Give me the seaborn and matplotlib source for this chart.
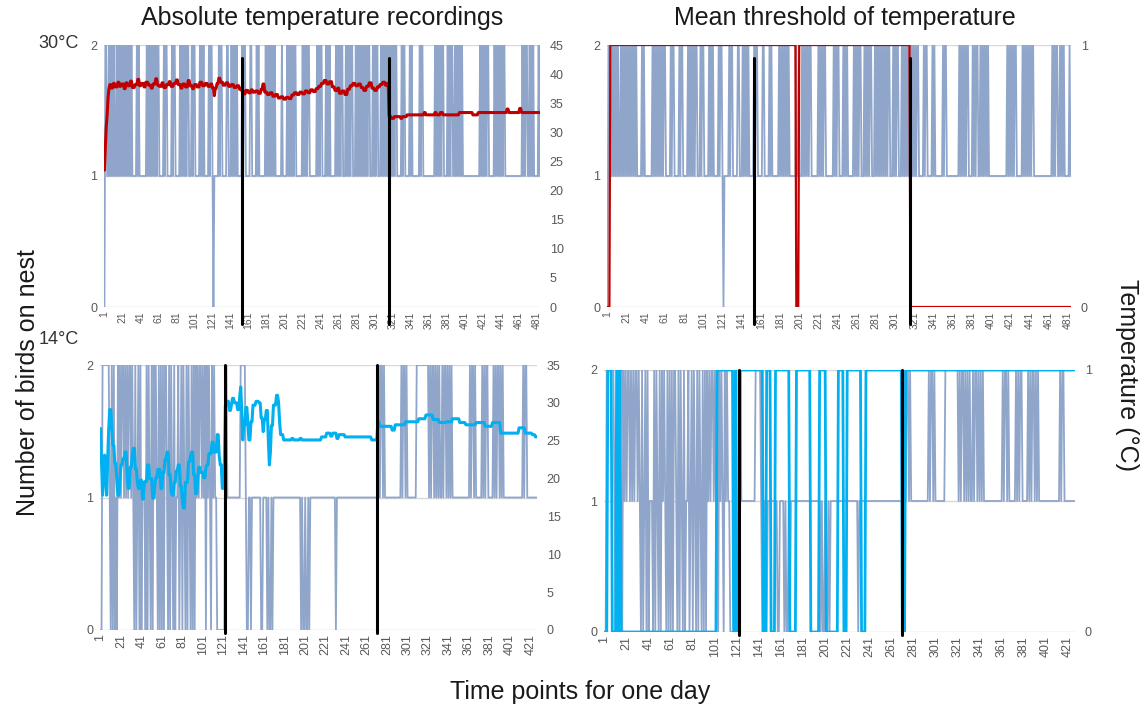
import numpy as np
import pandas as pd
import matplotlib
matplotlib.use("Agg")
import matplotlib.pyplot as plt
import seaborn as sns

# ---------------------------------------------------------------------------
# Data
# ---------------------------------------------------------------------------
# Number of birds on the nest at each time point (one digit per point,
# 20 points per string, matching the 1, 21, 41 ... tick spacing).
birds_30c = [
    "02211212121211212121", "21212121212111112121", "11111112121212121212",
    "21111121221111121221", "11112121212122111212", "21111121212111112122",
    "10111112122111112211", "12121212111112122111", "11221111121211111112",
    "12121212121111111211", "11121212121221111111", "21212122111111112121",
    "22111121212111111212", "12122111212121221112", "12121212121212211121",
    "21221112121212121212", "12122111112122111112", "12111111112122111111",
    "11111112121212122111", "12121221121212121211", "11111111111111111212",
    "12121221111112121212", "12122111111111111111", "11112121221121212111",
    "1121",
]
birds_14c = [
    "00222222210202010212", "12212121221210201202", "01110202102021210202",
    "02022102021020112012", "02102021020202121221", "21202121021211000000",
    "00221111111111111222", "22100110111111111001", "11101001011111111111",
    "11111111111111110100", "10010111111111111111", "11111111110111111111",
    "11111111111111111111", "11111111111121221211", "11111111111111212212",
    "11111111122222222222", "21212212121211212212", "12121111111111111111",
    "12122121111112121221", "11112121221212111111", "11111111111112122111",
    "1111111",
]

# Absolute temperature (deg C): value holds from the given time point onward
temp_30c_start = [
    1, 2, 3, 4, 5, 6, 7, 9, 11, 13, 16, 18, 20, 23, 25, 27, 30, 32, 35, 38,
    40, 42, 45, 47, 50, 53, 55, 58, 60, 62, 65, 67, 70, 73, 75, 78, 81, 83,
    86, 88, 91, 94, 96, 99, 101, 104, 107, 110, 113, 116, 119, 121, 123, 124,
    126, 128, 130, 133, 136, 139, 142, 145, 148, 151,
    154, 156, 158, 161, 164, 166, 169, 172, 175, 177, 179, 182, 185, 188, 191,
    194, 197, 200, 203, 206, 209, 212, 215, 218, 221, 224, 227, 230, 233, 236,
    239, 242, 245, 248, 251, 254, 257, 260, 262, 265, 268, 271, 274, 277, 280,
    283, 286, 289, 292, 295, 298, 301, 304, 307, 310, 313, 315,
    317, 320, 323, 330, 332, 337, 356, 358, 368, 370, 374, 377, 395, 410, 416,
    448, 450, 462, 464,
]
temp_30c_value = [
    23.5, 27.5, 31.0, 33.0, 36.0, 37.5, 38.2, 37.6, 38.4, 37.8, 38.6, 37.9,
    38.3, 37.5, 38.5, 38.0, 38.8, 37.7, 38.2, 39.1, 38.0, 38.4, 37.8, 38.6,
    38.1, 37.6, 38.3, 39.2, 38.1, 37.9, 38.5, 37.7, 38.2, 38.7, 37.9, 38.4,
    39.0, 38.2, 37.6, 38.3, 37.8, 38.9, 38.0, 37.5, 38.2, 37.8, 38.6, 38.0,
    38.4, 37.9, 38.3, 37.6, 36.3, 37.6, 38.4, 39.3, 38.6, 38.1, 38.5, 37.9,
    38.2, 37.7, 38.0, 37.4,
    37.0, 36.6, 37.2, 36.8, 37.3, 36.9, 37.1, 36.7, 37.4, 38.3, 36.9, 36.5,
    36.8, 36.2, 36.5, 35.9, 36.1, 35.7, 36.0, 35.8, 36.4, 36.8, 36.5, 36.9,
    36.6, 37.1, 36.8, 37.3, 37.0, 37.5, 37.9, 38.4, 38.9, 38.3, 38.7, 37.8,
    37.2, 37.6, 36.7, 37.1, 36.5, 37.4, 38.0, 38.4, 38.0, 38.3, 37.7, 37.2,
    37.9, 38.5, 37.6, 37.2, 37.8, 38.2, 38.6, 38.1, 38.4,
    32.7, 32.4, 32.7, 32.4, 32.7, 33.0, 33.4, 33.0, 33.4, 33.0, 33.4, 33.0,
    33.4, 33.0, 33.4, 34.0, 33.4, 34.1, 33.4,
]

temp_14c_start = [
    1, 2, 3, 4, 5, 6, 7, 8, 9, 10, 12, 13, 15, 17, 18, 20, 21, 23, 25, 27,
    28, 30, 32, 33, 35, 37, 38, 40, 42, 44, 47, 49, 52, 54, 55, 57, 60, 62,
    64, 66, 68, 70, 71, 73, 75, 77, 79, 81, 82, 84, 87, 89, 90, 92, 94, 96,
    97, 99, 102, 104, 105, 107, 110, 112, 115, 117, 118, 120, 122,
    123, 125, 127, 129, 130, 132, 135, 137, 138, 139, 140, 141, 143, 145, 146,
    148, 150, 153, 156, 158, 160, 161, 163, 165, 166, 167, 168, 170, 173, 175,
    176, 177,
    180, 188, 190, 196, 198, 217, 222, 226, 228, 232, 234, 240, 266,
    272, 274, 286, 289, 299, 312, 319, 326, 332, 339, 345, 352, 358, 368, 377,
    384, 392, 410, 416, 423, 426,
]
temp_14c_value = [
    26.6, 22.0, 17.8, 20.5, 23.1, 20.0, 17.8, 22.5, 26.5, 29.1, 26.8, 24.4,
    22.0, 19.5, 17.8, 20.0, 21.8, 22.6, 23.5, 20.5, 18.7, 21.5, 23.0, 24.0,
    21.3, 19.5, 18.7, 19.8, 17.3, 19.6, 21.8, 20.0, 17.4, 19.0, 20.1, 21.2,
    18.7, 20.8, 22.5, 23.5, 20.5, 18.3, 17.8, 19.5, 21.0, 21.8, 19.0, 17.0,
    16.1, 19.5, 22.2, 23.0, 23.5, 20.5, 18.0, 20.0, 21.5, 20.8, 20.1, 21.5,
    21.8, 23.3, 24.8, 23.5, 25.8, 23.0, 21.8, 18.7, 22.0,
    29.7, 30.2, 29.0, 29.8, 30.6, 30.0, 29.1, 30.8, 32.1, 29.0, 25.1, 27.0,
    29.4, 27.2, 25.1, 27.5, 29.7, 30.2, 30.0, 28.0, 26.2, 27.8, 29.0, 25.0,
    21.8, 23.5, 27.0, 29.7, 31.0, 30.0, 27.5, 25.8,
    25.1, 25.3, 25.1, 25.3, 25.1, 25.5, 26.0, 25.6, 26.0, 25.3, 25.8, 25.5,
    25.1,
    27.5, 26.9, 26.4, 27.1, 27.5, 27.9, 28.4, 27.8, 27.4, 27.5, 27.9, 27.4,
    27.1, 27.4, 26.9, 27.4, 26.0, 26.7, 26.0, 25.8, 25.5,
]

# Above/below mean threshold (1 = above), holding from the given point onward
thr_30c_start = [1, 4, 198, 201, 317]
thr_30c_value = [0, 1, 0, 1, 0]
thr_14c_start = [
    1, 4, 8, 12, 14, 15, 16, 103, 118, 120, 121, 124, 145, 148, 152, 156, 169,
    175, 188, 196, 202, 213, 218, 221, 234, 238, 271, 274,
]
thr_14c_value = [
    0, 1, 0, 1, 0, 1, 0, 1, 0, 1, 0, 1, 0, 1, 0, 1, 0,
    1, 0, 1, 0, 1, 0, 1, 0, 1, 0, 1,
]

# Time points where the experimental phase changes
events_30c = [154, 317]
events_14c = [123, 271]

ticks_30c = list(range(1, 482, 20))
ticks_14c = list(range(1, 422, 20))

# ---------------------------------------------------------------------------
def digits(chunks):
    return np.array([int(c) for c in "".join(chunks)], dtype=float)


def hold(starts, values, n):
    out = np.empty(n)
    for i, (s, v) in enumerate(zip(starts, values)):
        e = starts[i + 1] if i + 1 < len(starts) else n + 1
        out[s - 1:e - 1] = v
    return out


b30 = digits(birds_30c)
b14 = digits(birds_14c)
n30, n14 = len(b30), len(b14)
assert n30 == 484 and n14 == 427, (n30, n14)
t30 = np.arange(1, n30 + 1)
t14 = np.arange(1, n14 + 1)

df30 = pd.DataFrame({
    "t": t30, "birds": b30,
    "temp": hold(temp_30c_start, temp_30c_value, n30),
    "thr": hold(thr_30c_start, thr_30c_value, n30),
})
df14 = pd.DataFrame({
    "t": t14, "birds": b14,
    "temp": hold(temp_14c_start, temp_14c_value, n14),
    "thr": hold(thr_14c_start, thr_14c_value, n14),
})

# ---------------------------------------------------------------------------
sns.set_theme(style="white")
plt.rcParams["font.family"] = ["Liberation Sans", "DejaVu Sans"]

BIRD = "#8FA5CA"
RED = "#C00000"
CYAN = "#00B0F0"
GRID = "#D9D9D9"
TICK = "#595959"

W, H = 1145, 709
fig = plt.figure(figsize=(W / 100, H / 100), dpi=100)


def rect(l, t, r, b):
    return [l / W, 1 - b / H, (r - l) / W, (b - t) / H]


def style_axes(ax, tw, ticks, n, right_max, right_step, xfs):
    ax.set_xlim(0.5, n + 0.5)
    ax.set_ylim(0, 2)
    ax.set_yticks([0, 1, 2])
    ax.set_xticks(ticks)
    ax.set_xticklabels([str(v) for v in ticks], rotation=90,
                       fontsize=xfs, color=TICK)
    ax.tick_params(axis="x", length=0, pad=3)
    ax.tick_params(axis="y", length=0, pad=5, labelsize=9, labelcolor=TICK)
    ax.grid(axis="y", color=GRID, linewidth=1.0)
    ax.grid(axis="x", visible=False)
    ax.set_axisbelow(True)
    for s in ax.spines.values():
        s.set_visible(False)
    ax.set_xlabel("")
    ax.set_ylabel("")
    tw.set_ylim(0, right_max)
    tw.set_yticks(np.arange(0, right_max + 0.01, right_step))
    tw.tick_params(axis="y", length=0, pad=7, labelsize=9, labelcolor=TICK)
    tw.grid(False)
    for s in tw.spines.values():
        s.set_visible(False)
    tw.set_xlabel("")
    tw.set_ylabel("")


def events(tw, xs, ymin, ymax):
    for x in xs:
        tw.axvline(x, ymin=ymin, ymax=ymax, color="black", linewidth=2.2,
                   clip_on=False, zorder=10)


panels = [
    (rect(104, 45, 540, 307), df30, "temp", RED, 2.2, 45, 5, ticks_30c,
     events_30c, (-0.065, 0.95), 7.5),
    (rect(607, 45, 1071, 307), df30, "thr", RED, 1.6, 1, 1, ticks_30c,
     events_30c, (-0.065, 0.95), 7.5),
    (rect(100, 365, 537, 630), df14, "temp", CYAN, 2.2, 35, 5, ticks_14c,
     events_14c, (-0.01, 1.0), 9),
    (rect(604, 370, 1075, 632), df14, "thr", CYAN, 2.0, 1, 1, ticks_14c,
     events_14c, (-0.01, 1.0), 9),
]

for pos, df, col, color, lw, rmax, rstep, ticks, ev, (y0, y1), xfs in panels:
    ax = fig.add_axes(pos)
    sns.lineplot(data=df, x="t", y="birds", ax=ax, color=BIRD, linewidth=1.3,
                 estimator=None, sort=False, legend=False)
    tw = ax.twinx()
    sns.lineplot(data=df, x="t", y=col, ax=tw, color=color, linewidth=lw,
                 estimator=None, sort=False, legend=False)
    style_axes(ax, tw, ticks, len(df), rmax, rstep, xfs)
    events(tw, ev, y0, y1)

# Titles and shared labels
fig.text(322 / W, 1 - 18 / H, "Absolute temperature recordings",
         ha="center", va="center", fontsize=18, color="#1a1a1a")
fig.text(845 / W, 1 - 18 / H, "Mean threshold of temperature",
         ha="center", va="center", fontsize=18, color="#1a1a1a")
fig.text(79 / W, 1 - 44 / H, "30°C", ha="right", va="center",
         fontsize=13, color="#333333")
fig.text(79 / W, 1 - 340 / H, "14°C", ha="right", va="center",
         fontsize=13, color="#333333")
fig.text(28 / W, 1 - 383 / H, "Number of birds on nest", rotation=90,
         ha="center", va="center", fontsize=18, color="#1a1a1a")
fig.text(1127 / W, 1 - 375 / H, "Temperature (°C)", rotation=-90,
         ha="center", va="center", fontsize=18, color="#1a1a1a")
fig.text(580 / W, 1 - 692 / H, "Time points for one day",
         ha="center", va="center", fontsize=18, color="#1a1a1a")

fig.savefig("out.png", dpi=100, facecolor="white")
